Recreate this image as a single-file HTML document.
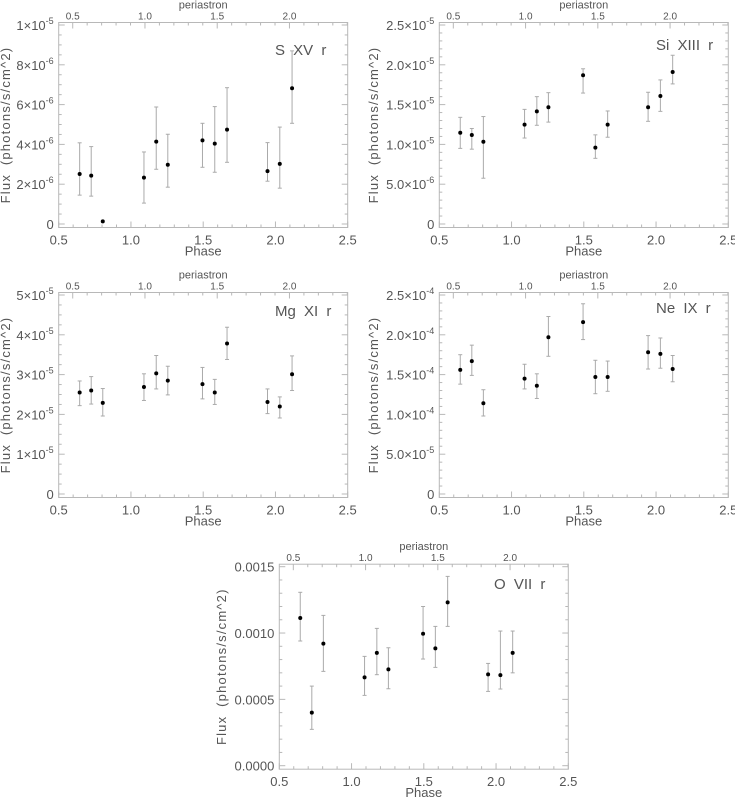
<!DOCTYPE html>
<html><head><meta charset="utf-8"><style>
html,body{margin:0;padding:0;background:#fff;}
svg{display:block;font-family:"Liberation Sans",sans-serif;}
</style></head><body>
<svg id="fig" width="735" height="797" viewBox="0 0 735 797" xmlns="http://www.w3.org/2000/svg"></svg>
<script>
// ---- data ----
const phases = [0.645,0.725,0.805,1.09,1.175,1.255,1.495,1.58,1.665,1.945,2.03,2.115];
const periOffset = 0.097;
const sxvVal = [2.51,2.43,0.13,2.33,4.14,2.98,4.20,4.04,4.74,2.66,3.02,6.82];
const sxvLo  = [1.45,1.40,null,1.05,2.75,1.85,2.85,2.60,3.10,2.15,1.80,5.06];
const sxvHi  = [4.08,3.89,null,3.62,5.88,4.51,5.06,5.90,6.85,4.09,4.87,8.7];
const siVal = [1.147,1.118,1.034,1.248,1.415,1.466,1.868,0.959,1.248,1.466,1.608,1.91];
const siLo  = [0.95,0.94,0.575,1.08,1.24,1.28,1.645,0.825,1.09,1.29,1.415,1.76];
const siHi  = [1.34,1.20,1.35,1.44,1.60,1.65,1.95,1.12,1.42,1.655,1.81,2.12];
const mgVal = [2.55,2.60,2.29,2.69,3.03,2.85,2.76,2.55,3.78,2.31,2.20,3.01];
const mgLo  = [2.22,2.26,1.96,2.35,2.64,2.49,2.39,2.25,3.38,2.02,1.91,2.60];
const mgHi  = [2.84,2.95,2.65,3.02,3.48,3.21,3.18,2.88,4.19,2.64,2.44,3.47];
const neVal = [1.56,1.67,1.14,1.45,1.36,1.97,2.16,1.47,1.47,1.78,1.76,1.57];
const neLo  = [1.38,1.49,0.98,1.32,1.20,1.73,1.94,1.26,1.29,1.57,1.58,1.41];
const neHi  = [1.75,1.87,1.31,1.63,1.51,2.23,2.39,1.68,1.67,1.99,1.96,1.74];
const oVal = [1.113,0.40,0.92,0.666,0.85,0.726,0.995,0.884,1.231,0.688,0.683,0.85];
const oLo  = [0.94,0.274,0.711,0.53,0.686,0.58,0.804,0.741,1.05,0.56,0.578,0.70];
const oHi  = [1.307,0.60,1.133,0.824,1.035,0.889,1.20,1.05,1.427,0.771,1.015,1.015];
const xTicks = ["0.5","1.0","1.5","2.0","2.5"];
const periTicks = ["0.5","1.0","1.5","2.0"];
const sxvTicks = [["0",""],["2×10","-6"],["4×10","-6"],["6×10","-6"],["8×10","-6"],["1×10","-5"]];
const siTicks = [["0",""],["5.0×10","-6"],["1.0×10","-5"],["1.5×10","-5"],["2.0×10","-5"],["2.5×10","-5"]];
const mgTicks = [["0",""],["1×10","-5"],["2×10","-5"],["3×10","-5"],["4×10","-5"],["5×10","-5"]];
const neTicks = [["0",""],["5.0×10","-5"],["1.0×10","-4"],["1.5×10","-4"],["2.0×10","-4"],["2.5×10","-4"]];
const oTicks = [["0.0000",""],["0.0005",""],["0.0010",""],["0.0015",""]];

const NS="http://www.w3.org/2000/svg";
const svg=document.getElementById('fig');
function mk(tag,attrs,parent){const e=document.createElementNS(NS,tag);for(const k in attrs)e.setAttribute(k,attrs[k]);(parent||svg).appendChild(e);return e;}

function panel(o){
  const g=mk('g',{});
  
  
  const L=o.L,R=o.R,T=o.yTopTick-2.5,B=o.yZero+3.5;
  const xs=p=>L+(p-0.5)/2*(R-L);
  const ys=v=>o.yZero-(v/o.ymax)*(o.yZero-o.yTopTick);
  const ax={stroke:'#b8b8b8','stroke-width':1,fill:'none'};
  const box=mk('rect',Object.assign({x:L,y:T,width:R-L,height:B-T},ax),g);
  
  
  for(let i=0;i<=20;i++){const p=0.5+i*0.1;const x=xs(p);const len=(i%5==0)?6:3;
    mk('line',Object.assign({x1:x,x2:x,y1:B,y2:B-len},ax),g);}
  xTicks.forEach((t,i)=>{const tx=mk('text',{x:xs(0.5+i*0.5),y:B+17,'font-size':13,fill:'#555','text-anchor':'middle'},g);tx.textContent=t;
    
    });
  const xt=mk('text',{x:(L+R)/2,y:B+28,'font-size':13,fill:'#555','text-anchor':'middle'},g);xt.textContent='Phase';
  
  
  for(let i=0;i<=20;i++){const p=0.4+i*0.1+periOffset;if(p>2.5)break;if(p<0.5)continue;const x=xs(p);const len=(Math.round(i)%5==1)?6:3;
    mk('line',Object.assign({x1:x,x2:x,y1:T,y2:T+len},ax),g);}
  periTicks.forEach((t,i)=>{const tx=mk('text',{x:xs(0.5+i*0.5+periOffset),y:T-3,'font-size':10,fill:'#555','text-anchor':'middle'},g);tx.textContent=t;
    
    });
  const pt=mk('text',{x:(L+R)/2,y:T-14,'font-size':11,fill:'#555','text-anchor':'middle'},g);pt.textContent='periastron';
  
  
  const nMaj=o.ticks.length-1, step=o.ymax/nMaj;
  for(let i=0;i<=nMaj*o.minor;i++){const v=i*step/o.minor;const y=ys(v);const len=(i%o.minor==0)?6:3;
    mk('line',Object.assign({x1:L,x2:L+len,y1:y,y2:y},ax),g);
    mk('line',Object.assign({x1:R,x2:R-len,y1:y,y2:y},ax),g);}
  o.ticks.forEach((t,i)=>{const y=ys(i*step);
    const tx=mk('text',{x:L-5,y:y+5,'font-size':13,fill:'#555','text-anchor':'end'},g);
    
    
    if(t[1]){const a=mk('tspan',{},tx);a.textContent=t[0];const b=mk('tspan',{dy:-6,'font-size':9},tx);b.textContent=t[1];}
    else tx.textContent=t[0];});
  const yt=mk('text',{x:0,y:0,'font-size':13,'letter-spacing':1.2,'word-spacing':4,fill:'#555','text-anchor':'middle',transform:`translate(${o.titleX},${(T+B)/2}) rotate(-90)`},g);
  yt.textContent='Flux (photons/s/cm^2)';
  
  
  const lab=mk('text',{x:o.labX,y:o.labY,'font-size':15,fill:'#555','word-spacing':4},g);lab.textContent=o.label;
  
  
  phases.forEach((p,i)=>{const x=xs(p);
    if(o.lo[i]!=null){
      const eb=mk('g',{stroke:'#aaa','stroke-width':1},g);
      
      
      mk('line',{x1:x,x2:x,y1:ys(o.lo[i]),y2:ys(o.hi[i])},eb);
      mk('line',{x1:x-2,x2:x+2,y1:ys(o.lo[i]),y2:ys(o.lo[i])},eb);
      mk('line',{x1:x-2,x2:x+2,y1:ys(o.hi[i]),y2:ys(o.hi[i])},eb);}
    const c=mk('circle',{cx:x,cy:ys(o.val[i]),r:2,fill:'#000'},g);
    
    
  });
}
panel({name:'s-xv',L:58.7,R:347.7,yZero:224,yTopTick:25,ymax:10,minor:4,ticks:sxvTicks,val:sxvVal,lo:sxvLo,hi:sxvHi,label:'S XV r',labX:275,labY:55,titleX:10});
panel({name:'si-xiii',L:439.3,R:728.3,yZero:224,yTopTick:25,ymax:2.5,minor:5,ticks:siTicks,val:siVal,lo:siLo,hi:siHi,label:'Si XIII r',labX:656,labY:50,titleX:378});
panel({name:'mg-xi',L:58.7,R:347.7,yZero:494,yTopTick:295,ymax:5,minor:4,ticks:mgTicks,val:mgVal,lo:mgLo,hi:mgHi,label:'Mg XI r',labX:275,labY:316,titleX:10});
panel({name:'ne-ix',L:439.3,R:728.3,yZero:494,yTopTick:295,ymax:2.5,minor:5,ticks:neTicks,val:neVal,lo:neLo,hi:neHi,label:'Ne IX r',labX:656,labY:313,titleX:378});
panel({name:'o-vii',L:279.3,R:568.3,yZero:765.7,yTopTick:566.7,ymax:1.5,minor:5,ticks:oTicks,val:oVal,lo:oLo,hi:oHi,label:'O VII r',labX:494,labY:589,titleX:226});
</script>
</body></html>
